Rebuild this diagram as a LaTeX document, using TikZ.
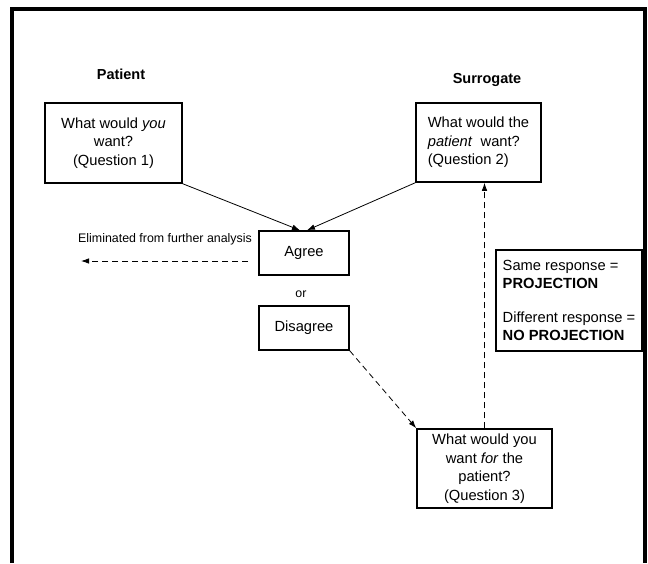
\documentclass[tikz,border=0pt]{standalone}
\usepackage{fontspec}
\setmainfont{Liberation Sans}
\usetikzlibrary{arrows.meta}
\begin{document}
\begin{tikzpicture}[x=1pt,y=-1pt,
  box/.style={draw,line width=1.5pt,inner sep=0pt,font=\fontsize{14.7}{18.5}\selectfont},
  lbl/.style={inner sep=0pt,font=\fontsize{14.5}{17}\selectfont\bfseries},
  small/.style={inner sep=0pt,font=\fontsize{12.4}{15}\selectfont},
  conn/.style={line width=0.8pt,-{Latex[length=8pt,width=5.5pt]}},
  dconn/.style={conn,dash pattern=on 6pt off 4pt}]
\useasboundingbox (0,0) rectangle (648,563);
\draw[line width=3.5pt] (12,563) -- (12,9) -- (645,9) -- (645,563);

\node[lbl] (patient) at (121,74) {Patient};
\node[lbl] (surrogate) at (487,80) {Surrogate};

\node[box,minimum width=137pt,minimum height=80pt,align=center] (q1) at (113.5,143)
  {What would \textit{you}\\want?\\(Question 1)};
\node[box,minimum width=125pt,minimum height=79pt,align=left] (q2) at (478.5,142.5)
  {What would the\\\textit{patient}\ \ want?\\(Question 2)};
\node[box,minimum width=90pt,minimum height=44pt] (agree) at (304,253) {Agree};
\node[small] (or) at (301,294) {or};
\node[box,minimum width=90pt,minimum height=44pt] (disagree) at (304,328) {Disagree};
\node[box,minimum width=146pt,minimum height=101pt,align=left,font=\fontsize{14.7}{17.4}\selectfont] (proj) at (569,300.5)
  {Same response =\\\textbf{PROJECTION}\\[17.4pt]Different response =\\\textbf{NO PROJECTION}};
\node[box,minimum width=135pt,minimum height=79pt,align=center] (q3) at (484.5,468.5)
  {What would you\\want \textit{for} the\\patient?\\(Question 3)};
\node[small] (elim) at (165,239) {Eliminated from further analysis};
\coordinate (elimA) at (248,261);
\coordinate (elimB) at (81,261);

\draw[conn] (q1.south east) -- ([xshift=-4pt]agree.north);
\draw[conn] (q2.south west) -- ([xshift=3pt]agree.north);
\draw[dconn] (elimA) -- (elimB);
\draw[dconn] (disagree.south east) -- (q3.north west);
\draw[dconn] (q3.north) -- (q3.north |- q2.south);
\end{tikzpicture}
\end{document}
